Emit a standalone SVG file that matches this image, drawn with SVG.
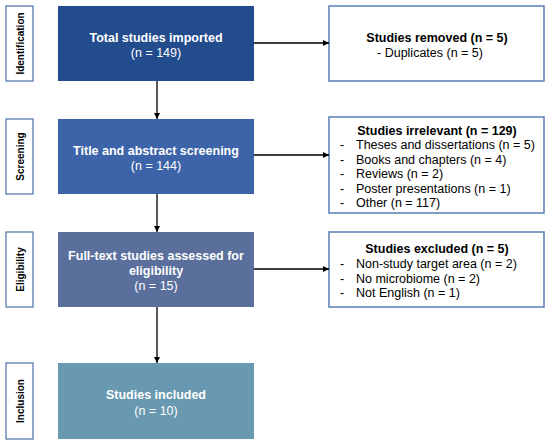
<svg xmlns="http://www.w3.org/2000/svg" width="550" height="444" viewBox="0 0 550 444">
<defs>
<marker id="ah" viewBox="0 0 10 10" refX="10" refY="5" markerWidth="5" markerHeight="5" markerUnits="strokeWidth" orient="auto">
<path d="M0,0 L10,5 L0,10 z" fill="#000"/>
</marker>
<style>
text{font-family:"Liberation Sans",Arial,sans-serif;}
.side rect{fill:#fff;stroke:#4a70aa;stroke-width:1.2;}
.side text{font-size:10px;font-weight:bold;fill:#000;text-anchor:middle;}
.main text{font-size:12.5px;fill:#fff;text-anchor:middle;}
.main .b{font-weight:bold;}
.rbox rect{fill:#fff;stroke:#5a7db4;stroke-width:1.5;}
.rbox text{font-size:12.5px;fill:#000;}
.rbox .b{font-weight:bold;text-anchor:middle;}
.conn line{stroke:#000;stroke-width:1.3;marker-end:url(#ah);}
</style>
</defs>
<rect width="550" height="444" fill="#fff"/>

<g id="side-identification" class="side">
<rect x="6" y="6" width="27" height="75"/>
<text transform="translate(23.5,43.5) rotate(-90)">Identification</text>
</g>
<g id="side-screening" class="side">
<rect x="6" y="119" width="27" height="75"/>
<text transform="translate(23.5,156.5) rotate(-90)">Screening</text>
</g>
<g id="side-eligibility" class="side">
<rect x="6" y="232" width="27" height="75"/>
<text transform="translate(23.5,269.5) rotate(-90)">Eligibility</text>
</g>
<g id="side-inclusion" class="side">
<rect x="6" y="363" width="27" height="76"/>
<text transform="translate(23.5,401) rotate(-90)">Inclusion</text>
</g>

<g id="total" class="main">
<rect x="58" y="6" width="196" height="75" fill="#234c8c"/>
<text class="b" x="156" y="41.5">Total studies imported</text>
<text x="156" y="57">(n = 149)</text>
</g>
<g id="screening" class="main">
<rect x="58" y="119" width="196" height="75" fill="#3d64a8"/>
<text class="b" x="156" y="154.5">Title and abstract screening</text>
<text x="156" y="169.5">(n = 144)</text>
</g>
<g id="fulltext" class="main">
<rect x="58" y="232" width="196" height="75" fill="#5a6f9c"/>
<text class="b" x="156" y="259.5">Full-text studies assessed for</text>
<text class="b" x="156" y="274.5">eligibility</text>
<text x="156" y="289.5">(n = 15)</text>
</g>
<g id="included" class="main">
<rect x="58" y="363" width="196" height="76" fill="#6899b1"/>
<text class="b" x="156" y="398.5">Studies included</text>
<text x="156" y="414.5">(n = 10)</text>
</g>

<g id="removed" class="rbox">
<rect x="329" y="6" width="215" height="75"/>
<text class="b" x="437" y="41.5">Studies removed (n = 5)</text>
<text x="430" y="56.5" text-anchor="middle">- Duplicates (n = 5)</text>
</g>
<g id="irrelevant" class="rbox">
<rect x="329" y="117" width="215" height="96"/>
<text class="b" x="437" y="134.5">Studies irrelevant (n = 129)</text>
<text x="340" y="149">-</text><text x="356" y="149">Theses and dissertations (n = 5)</text>
<text x="340" y="163.5">-</text><text x="356" y="163.5">Books and chapters (n = 4)</text>
<text x="340" y="178">-</text><text x="356" y="178">Reviews (n = 2)</text>
<text x="340" y="192.5">-</text><text x="356" y="192.5">Poster presentations (n = 1)</text>
<text x="340" y="207">-</text><text x="356" y="207">Other (n = 117)</text>
</g>
<g id="excluded" class="rbox">
<rect x="329" y="232" width="215" height="75"/>
<text class="b" x="437" y="252.5">Studies excluded (n = 5)</text>
<text x="340" y="267.5">-</text><text x="356" y="267.5">Non-study target area (n = 2)</text>
<text x="340" y="282.5">-</text><text x="356" y="282.5">No microbiome (n = 2)</text>
<text x="340" y="296.5">-</text><text x="356" y="296.5">Not English (n = 1)</text>
</g>

<g id="connectors" class="conn">
<line x1="254" y1="43" x2="329" y2="43"/>
<line x1="254" y1="155" x2="329" y2="155"/>
<line x1="254" y1="269" x2="329" y2="269"/>
<line x1="157" y1="81" x2="157" y2="119"/>
<line x1="157" y1="194" x2="157" y2="232"/>
<line x1="157" y1="307" x2="157" y2="363"/>
</g>
</svg>
